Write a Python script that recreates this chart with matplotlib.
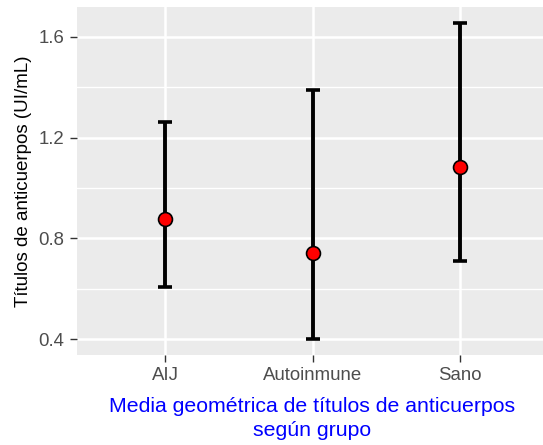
import matplotlib
matplotlib.use("Agg")
import matplotlib.pyplot as plt
import numpy as np

plt.rcParams["font.family"] = ["Liberation Sans", "DejaVu Sans"]

grupos = ["AIJ", "Autoinmune", "Sano"]
media = [0.877, 0.744, 1.083]
inferior = [0.608, 0.401, 0.710]
superior = [1.262, 1.388, 1.653]

fig = plt.figure(figsize=(5.43, 4.45), dpi=100)
ax = fig.add_axes([77 / 543, 1 - 355 / 445, 471 / 543, 348 / 445])
ax.set_facecolor("#EBEBEB")
for s in ax.spines.values():
    s.set_visible(False)

x = np.arange(len(grupos))
ax.set_xlim(-0.6, 2.6)
ax.set_ylim(0.338, 1.718)

# grid: major + minor horizontal, major vertical at each group
ax.set_yticks([0.4, 0.8, 1.2, 1.6])
ax.set_yticks([0.6, 1.0, 1.4], minor=True)
ax.set_xticks(x)
ax.set_xticklabels(grupos)
ax.yaxis.set_major_formatter(matplotlib.ticker.FormatStrFormatter("%.1f"))
ax.grid(which="major", color="white", linewidth=1.8)
ax.grid(which="minor", axis="y", color="white", linewidth=1.0)
ax.set_axisbelow(True)
ax.tick_params(which="major", length=5, width=1, color="#333333",
               labelcolor="#4D4D4D", labelsize=13.4, pad=4)
ax.tick_params(which="minor", length=0)

err = [np.array(media) - np.array(inferior), np.array(superior) - np.array(media)]
ax.errorbar(x, media, yerr=err, fmt="none", ecolor="black", elinewidth=2.8,
            capsize=5, capthick=2.6, zorder=3)
ax.plot(x, media, "o", markersize=10, markerfacecolor="red",
        markeredgecolor="black", markeredgewidth=1.2, zorder=4)

ax.set_ylabel("Títulos de anticuerpos (UI/mL)", fontsize=13.5, color="black",
              labelpad=5)
ax.set_xlabel("Media geométrica de títulos de anticuerpos\nsegún grupo",
              fontsize=15.3, color="blue", labelpad=9, linespacing=1.3)

fig.savefig("out.png", dpi=100)
